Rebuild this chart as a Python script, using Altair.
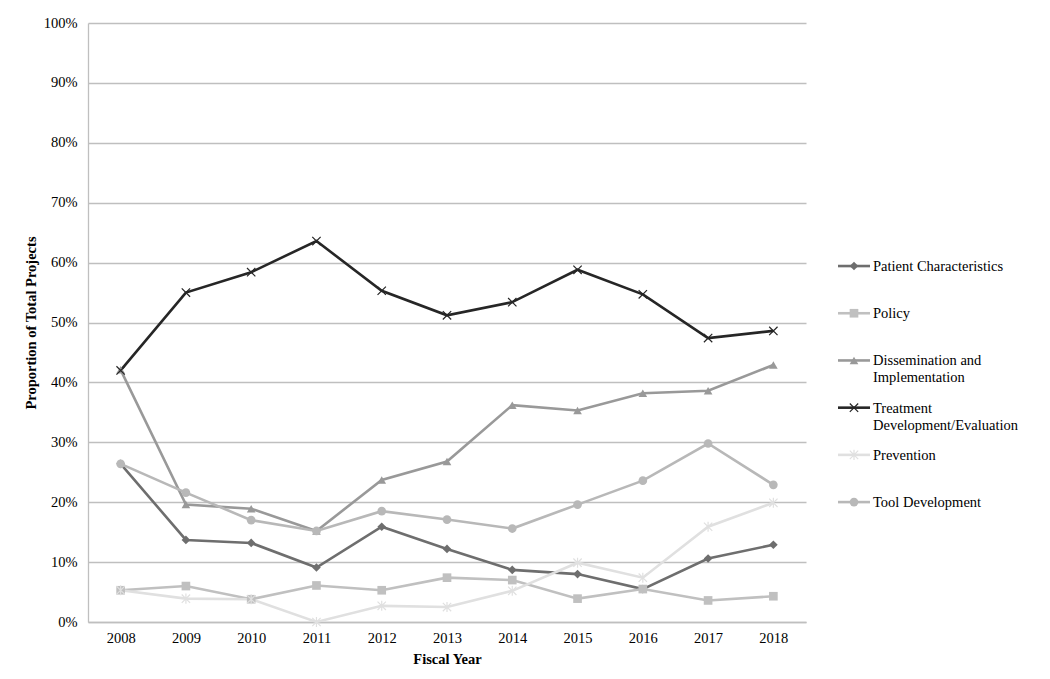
import altair as alt
import pandas as pd

years = ["2008", "2009", "2010", "2011", "2012", "2013", "2014", "2015", "2016", "2017", "2018"]

series_names = [
    "Patient Characteristics",
    "Policy",
    "Dissemination and Implementation",
    "Treatment Development/Evaluation",
    "Prevention",
    "Tool Development",
]
legend_labels = [
    "Patient Characteristics",
    "Policy",
    "Dissemination and\nImplementation",
    "Treatment\nDevelopment/Evaluation",
    "Prevention",
    "Tool Development",
]

patient = [26.4, 13.7, 13.2, 9.1, 15.9, 12.2, 8.7, 8.0, 5.5, 10.6, 12.9]
policy = [5.3, 6.0, 3.8, 6.1, 5.3, 7.4, 7.0, 3.9, 5.5, 3.6, 4.3]
dissemination = [42.1, 19.6, 18.9, 15.2, 23.7, 26.8, 36.2, 35.3, 38.2, 38.6, 42.9]
treatment = [42.0, 55.0, 58.4, 63.6, 55.3, 51.2, 53.4, 58.8, 54.7, 47.4, 48.6]
prevention = [5.3, 3.9, 3.8, 0.0, 2.7, 2.5, 5.2, 9.9, 7.4, 15.9, 19.9]
tool = [26.4, 21.6, 17.0, 15.2, 18.5, 17.1, 15.6, 19.6, 23.6, 29.8, 22.9]

colors = ["#6e6e6e", "#c0c0c0", "#999999", "#262626", "#e0e0e0", "#b8b8b8"]

X_PATH = "M-1,-1L1,1M-1,1L1,-1"
AST_PATH = "M-1,-1L1,1M-1,1L1,-1M0,-1.2L0,1.2"
shapes = ["diamond", "square", "triangle-up", X_PATH, AST_PATH, "circle"]
filled_series = ["Patient Characteristics", "Policy", "Dissemination and Implementation", "Tool Development"]
stroked_series = ["Treatment Development/Evaluation", "Prevention"]

all_values = [patient, policy, dissemination, treatment, prevention, tool]
rows = []
for si, (name, vals) in enumerate(zip(series_names, all_values)):
    for y, v in zip(years, vals):
        rows.append({"Year": y, "Series": name, "Value": v / 100.0, "order": si})
df = pd.DataFrame(rows)

FONT = "Liberation Serif"
color_scale = alt.Scale(domain=series_names, range=colors)
shape_scale = alt.Scale(domain=series_names, range=shapes)

x_enc = alt.X("Year:N", sort=years,
              axis=alt.Axis(title="Fiscal Year", labelAngle=0, ticks=False,
                            labelPadding=9, titlePadding=8, grid=False,
                            domainColor="#bfbfbf", domainWidth=1.3),
              scale=alt.Scale(paddingInner=0, paddingOuter=0.5))
y_enc = alt.Y("Value:Q",
              scale=alt.Scale(domain=[0, 1]),
              axis=alt.Axis(title="Proportion of Total Projects", format=".0%",
                            values=[i / 10 for i in range(11)], ticks=False,
                            labelPadding=11, titlePadding=5,
                            gridColor="#bfbfbf", gridWidth=1.3,
                            domainColor="#bfbfbf", domainWidth=1.3))

base = alt.Chart(df)
lines = base.mark_line(strokeWidth=2.6).encode(
    x=x_enc, y=y_enc,
    color=alt.Color("Series:N", scale=color_scale, legend=None),
    detail="order:O",
    order="Year:N",
)
pts_filled = base.transform_filter(
    alt.FieldOneOfPredicate(field="Series", oneOf=filled_series)
).mark_point(filled=True, opacity=1, size=75).encode(
    x=x_enc, y=y_enc,
    color=alt.Color("Series:N", scale=color_scale, legend=None),
    shape=alt.Shape("Series:N", scale=shape_scale, legend=None),
)
pts_stroked = base.transform_filter(
    alt.FieldOneOfPredicate(field="Series", oneOf=stroked_series)
).mark_point(filled=False, opacity=1, size=70, strokeWidth=1.2).encode(
    x=x_enc, y=y_enc,
    color=alt.Color("Series:N", scale=color_scale, legend=None),
    shape=alt.Shape("Series:N", scale=shape_scale, legend=None),
)

main = alt.layer(lines, pts_filled, pts_stroked).properties(width=718, height=599)

# legend panel
leg_df = pd.DataFrame({
    "Series": series_names,
    "Label": legend_labels,
    "pos": list(range(len(series_names))),
})
leg_y = alt.Y("pos:Q", scale=alt.Scale(domain=[-5.148, 7.54], reverse=True), axis=None)
leg_base = alt.Chart(leg_df)
leg_rule = leg_base.mark_rule(strokeWidth=2.6).encode(
    x=alt.value(2), x2=alt.value(34), y=leg_y,
    color=alt.Color("Series:N", scale=color_scale, legend=None),
)
leg_pf = leg_base.transform_filter(
    alt.FieldOneOfPredicate(field="Series", oneOf=filled_series)
).mark_point(filled=True, opacity=1, size=75).encode(
    x=alt.value(18), y=leg_y,
    color=alt.Color("Series:N", scale=color_scale, legend=None),
    shape=alt.Shape("Series:N", scale=shape_scale, legend=None),
)
leg_ps = leg_base.transform_filter(
    alt.FieldOneOfPredicate(field="Series", oneOf=stroked_series)
).mark_point(filled=False, opacity=1, size=70, strokeWidth=1.2).encode(
    x=alt.value(18), y=leg_y,
    color=alt.Color("Series:N", scale=color_scale, legend=None),
    shape=alt.Shape("Series:N", scale=shape_scale, legend=None),
)
leg_text = leg_base.mark_text(
    align="left", baseline="alphabetic", dx=0, dy=5, font=FONT, fontSize=14.5,
    lineBreak="\n", lineHeight=17, color="#000000",
).encode(x=alt.value(37), y=leg_y, text="Label:N")

legend_panel = alt.layer(leg_rule, leg_pf, leg_ps, leg_text).properties(width=190, height=599)

chart = alt.hconcat(main, legend_panel, spacing=30).configure(
    font=FONT,
    padding={"left": 15, "top": 7, "right": 5, "bottom": 5},
).configure_view(
    strokeWidth=0,
).configure_axis(
    labelFont=FONT, titleFont=FONT, labelFontSize=14.5, titleFontSize=14.5,
    labelColor="#000000", titleColor="#000000", titleFontWeight="bold",
)

chart.save("out.html", embed_options={"renderer": "svg", "actions": False})
